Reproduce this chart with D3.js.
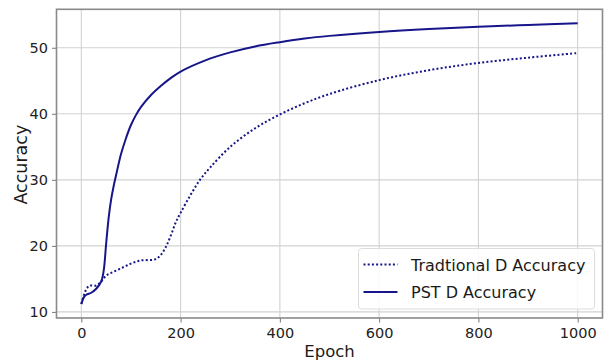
<!DOCTYPE html>
<html>
<head>
<meta charset="utf-8">
<script src="https://cdn.jsdelivr.net/npm/d3@7"></script>
<style>
  body { margin: 0; background: #fff; }
  svg { display: block; font-family: "DejaVu Sans", sans-serif; }
  .tick text { fill: #222; }
</style>
</head>
<body>
<div id="chart"></div>
<script>
// values
const pstEpochs = [0, 5, 10, 20, 30, 40, 45, 50, 55, 60, 65, 70, 80, 90, 100, 110, 120, 140, 160, 180, 200,
  250, 300, 350, 400, 450, 500, 600, 700, 800, 900, 1000];
const pstAcc = [11.2, 12.2, 12.6, 12.9, 13.5, 14.6, 16.2, 20.3, 24.2, 27.0, 29.0, 30.7, 33.9, 36.3, 38.3, 39.8, 41.0, 42.8, 44.2, 45.4, 46.4,
  48.1, 49.3, 50.2, 50.85, 51.4, 51.8, 52.4, 52.85, 53.2, 53.45, 53.7];

const tradEpochs = [0, 5, 10, 15, 20, 30, 40, 50, 60, 80, 100, 120, 140, 150, 160, 170, 180, 190, 200, 220,
  240, 260, 300, 350, 400, 450, 500, 600, 700, 800, 900, 1000];
const tradAcc = [11.2, 12.5, 13.4, 13.9, 14.0, 14.0, 14.6, 15.5, 15.9, 16.6, 17.3, 17.8, 17.85, 18.0, 18.6, 19.8, 21.5, 23.5, 25.0, 27.7,
  30.1, 31.9, 35.0, 37.8, 39.9, 41.6, 43.0, 45.1, 46.6, 47.7, 48.5, 49.2];

const xTicks = [0, 200, 400, 600, 800, 1000];
const yTicks = [10, 20, 30, 40, 50];
const legendLabels = ["Tradtional D Accuracy", "PST D Accuracy"];

const W = 604, H = 360;
const margin = {top: 9.3, right: 1.5, bottom: 42, left: 56.5};
const width = W - margin.left - margin.right,
  height = H - margin.top - margin.bottom;
const lineColor = "#16168a";

const svg = d3.select("#chart").append("svg")
  .attr("width", W)
  .attr("height", H);

const g = svg.append("g")
  .attr("transform", `translate(${margin.left},${margin.top})`);

// matplotlib style 5% padding
const xMin = d3.min(pstEpochs), xMax = d3.max(pstEpochs);
const xPad = (xMax - xMin) * 0.05;
const x = d3.scaleLinear()
  .domain([xMin - xPad, xMax + xPad])
  .range([0, width]);

const allAcc = pstAcc.concat(tradAcc);
const [yMin, yMax] = d3.extent(allAcc);
const yPad = (yMax - yMin) * 0.05;
const y = d3.scaleLinear()
  .domain([yMin - yPad, yMax + yPad])
  .range([height, 0]);

// grid
g.append("g")
  .selectAll("line")
  .data(xTicks)
  .join("line")
    .attr("x1", d => x(d)).attr("x2", d => x(d))
    .attr("y1", 0).attr("y2", height)
    .attr("stroke", "#d2d2d2")
    .attr("stroke-width", 1.1);
g.append("g")
  .selectAll("line")
  .data(yTicks)
  .join("line")
    .attr("x1", 0).attr("x2", width)
    .attr("y1", d => y(d)).attr("y2", d => y(d))
    .attr("stroke", "#d2d2d2")
    .attr("stroke-width", 1.1);

// axes
g.append("g")
  .attr("transform", `translate(0,${height})`)
  .call(d3.axisBottom(x).tickValues(xTicks).tickSize(4.5).tickPadding(5).tickFormat(d3.format("d")))
  .call(a => a.select(".domain").remove())
  .call(a => a.selectAll(".tick line").attr("stroke", "#777"))
  .call(a => a.selectAll(".tick text").attr("font-size", 14.5).attr("font-family", "DejaVu Sans"));

g.append("g")
  .call(d3.axisLeft(y).tickValues(yTicks).tickSize(4.5).tickPadding(4))
  .call(a => a.select(".domain").remove())
  .call(a => a.selectAll(".tick line").attr("stroke", "#777"))
  .call(a => a.selectAll(".tick text").attr("font-size", 14.5).attr("font-family", "DejaVu Sans"));

// lines
const line = d3.line()
  .x(d => x(d[0]))
  .y(d => y(d[1]))
  .curve(d3.curveCatmullRom.alpha(0.5));

g.append("path")
  .datum(d3.zip(tradEpochs, tradAcc))
  .attr("fill", "none")
  .attr("stroke", lineColor)
  .attr("stroke-width", 2)
  .attr("stroke-dasharray", "2,2.2")
  .attr("d", line);

g.append("path")
  .datum(d3.zip(pstEpochs, pstAcc))
  .attr("fill", "none")
  .attr("stroke", lineColor)
  .attr("stroke-width", 2)
  .attr("d", line);

// frame
g.append("rect")
  .attr("width", width)
  .attr("height", height)
  .attr("fill", "none")
  .attr("stroke", "#8a8a8a")
  .attr("stroke-width", 1.6);

// legend
const legend = svg.append("g").attr("transform", "translate(358.5,248.5)");
legend.append("rect")
  .attr("width", 236)
  .attr("height", 60.5)
  .attr("rx", 3)
  .attr("fill", "rgba(255,255,255,0.85)")
  .attr("stroke", "#dcdcdc");

const rows = legend.selectAll("g.row")
  .data(legendLabels)
  .join("g")
    .attr("class", "row")
    .attr("transform", (d, i) => `translate(0,${16 + i * 27.4})`);

rows.append("line")
  .attr("x1", 5).attr("x2", 39)
  .attr("stroke", lineColor)
  .attr("stroke-width", 2)
  .attr("stroke-dasharray", (d, i) => i === 0 ? "2,2.2" : null);

rows.append("text")
  .attr("x", 52.5)
  .attr("y", 6.5)
  .attr("font-size", 16)
  .attr("fill", "#1a1a1a")
  .text(d => d);

// axis labels
svg.append("text")
  .attr("x", margin.left + width / 2)
  .attr("y", 357)
  .attr("text-anchor", "middle")
  .attr("font-size", 16.5)
  .attr("fill", "#1a1a1a")
  .text("Epoch");

svg.append("text")
  .attr("transform", `translate(27,${margin.top + height / 2 + 1}) rotate(-90)`)
  .attr("text-anchor", "middle")
  .attr("font-size", 17.5)
  .attr("fill", "#1a1a1a")
  .text("Accuracy");
</script>
</body>
</html>
